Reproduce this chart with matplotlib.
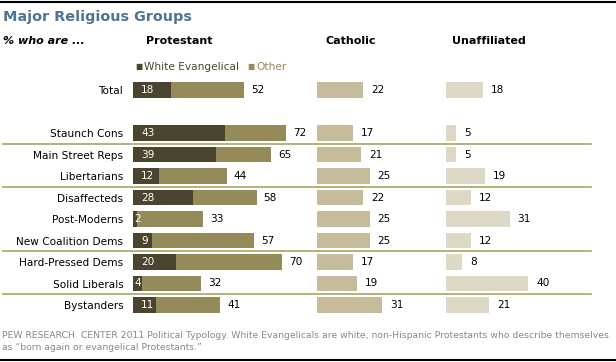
import matplotlib
matplotlib.use('Agg')
import matplotlib.pyplot as plt

# data
groups = ['Total', 'Staunch Cons', 'Main Street Reps', 'Libertarians', 'Disaffecteds',
          'Post-Moderns', 'New Coalition Dems', 'Hard-Pressed Dems', 'Solid Liberals',
          'Bystanders']
white_evangelical = [18, 43, 39, 12, 28, 2, 9, 20, 4, 11]
protestant_total = [52, 72, 65, 44, 58, 33, 57, 70, 32, 41]
catholic = [22, 17, 21, 25, 22, 25, 25, 17, 19, 31]
unaffiliated = [18, 5, 5, 19, 12, 31, 12, 8, 40, 21]

DARK = '#4a4430'
OTHER = '#948a5a'
CATH = '#c6bc9c'
UNAFF = '#ded9c6'
SEP = '#a3a85e'
TITLE = '#4f7394'

W, H = 616, 362
fig = plt.figure(figsize=(W / 100, H / 100), dpi=100)

# row positions: Total, a blank row, then the typology groups
pos = [0] + [i + 2 for i in range(len(groups) - 1)]
ROW0, PITCH = 90, 21.5
ylim = ((H - ROW0) / PITCH, -ROW0 / PITCH)


def col_axes(x0, scale, width=170):
    ax = fig.add_axes([x0 / W, 0, width / W, 1])
    ax.set_xlim(0, width / scale)
    ax.set_ylim(*ylim)
    ax.set_frame_on(False)
    ax.set_xticks([])
    ax.set_yticks([])
    return ax


# background axes for the separator lines
bg = fig.add_axes([0, 0, 1, 1])
bg.set_xlim(0, W)
bg.set_ylim(*ylim)
bg.axis('off')
for y in [2.5, 4.5, 7.5, 9.5]:
    bg.plot([3, 591], [y, y], color=SEP, lw=1.2)
bg.plot([0, W], [-90 / PITCH + 1.5 / PITCH] * 2, color='black', lw=1.5)
bg.plot([0, W], [ylim[0] - 2 / PITCH] * 2, color='black', lw=1.5)

bh = 0.7
fs = 7.6

# Protestant
ax = col_axes(133, 2.13)
ax.barh(pos, white_evangelical, height=bh, color=DARK)
ax.barh(pos, [t - w for t, w in zip(protestant_total, white_evangelical)],
        left=white_evangelical, height=bh, color=OTHER)
for p, w, t in zip(pos, white_evangelical, protestant_total):
    off = 1 if w < 5 else 8
    ax.annotate(str(w), (0, p), xytext=(off * 0.72, 0), textcoords='offset points',
                ha='left', va='center', color='white', fontsize=fs)
    ax.annotate(str(t), (t, p), xytext=(7 * 0.72, 0), textcoords='offset points',
                ha='left', va='center', color='black', fontsize=fs)
ax.set_yticks(pos)
ax.set_yticklabels(groups, fontsize=fs)
ax.tick_params(axis='y', length=0, pad=7)

# Catholic
ax = col_axes(317, 2.1, 120)
ax.barh(pos, catholic, height=bh, color=CATH)
for p, v in zip(pos, catholic):
    ax.annotate(str(v), (v, p), xytext=(8 * 0.72, 0), textcoords='offset points',
                ha='left', va='center', color='black', fontsize=fs)

# Unaffiliated
ax = col_axes(446, 2.05, 140)
ax.barh(pos, unaffiliated, height=bh, color=UNAFF)
for p, v in zip(pos, unaffiliated):
    ax.annotate(str(v), (v, p), xytext=(8 * 0.72, 0), textcoords='offset points',
                ha='left', va='center', color='black', fontsize=fs)


def ftext(x, y, s, **kw):
    fig.text(x / W, 1 - y / H, s, **kw)


ftext(3, 17, 'Major Religious Groups', fontsize=10.4, fontweight='bold', color=TITLE,
      va='center')
ftext(3, 41, '% who are ...', fontsize=8, fontweight='bold', fontstyle='italic', va='center')
ftext(146, 41, 'Protestant', fontsize=8, fontweight='bold', va='center')
ftext(325, 41, 'Catholic', fontsize=8, fontweight='bold', va='center')
ftext(452, 41, 'Unaffiliated', fontsize=8, fontweight='bold', va='center')

# legend
ftext(135, 67, '\u25a0', fontsize=5.5, color=DARK, va='center')
ftext(144, 67, 'White Evangelical', fontsize=fs, color=DARK, va='center')
ftext(247, 67, '\u25a0', fontsize=5.5, color=OTHER, va='center')
ftext(256, 67, 'Other', fontsize=fs, color=OTHER, va='center')

ftext(2, 336, 'PEW RESEARCH  CENTER 2011 Political Typology. White Evangelicals are white, '
      'non-Hispanic Protestants who describe themselves', fontsize=6.7, color='#888888',
      va='center')
ftext(2, 347, 'as \u201cborn again or evangelical Protestants.\u201d', fontsize=6.7,
      color='#888888', va='center')

fig.savefig('out.png', dpi=100)
